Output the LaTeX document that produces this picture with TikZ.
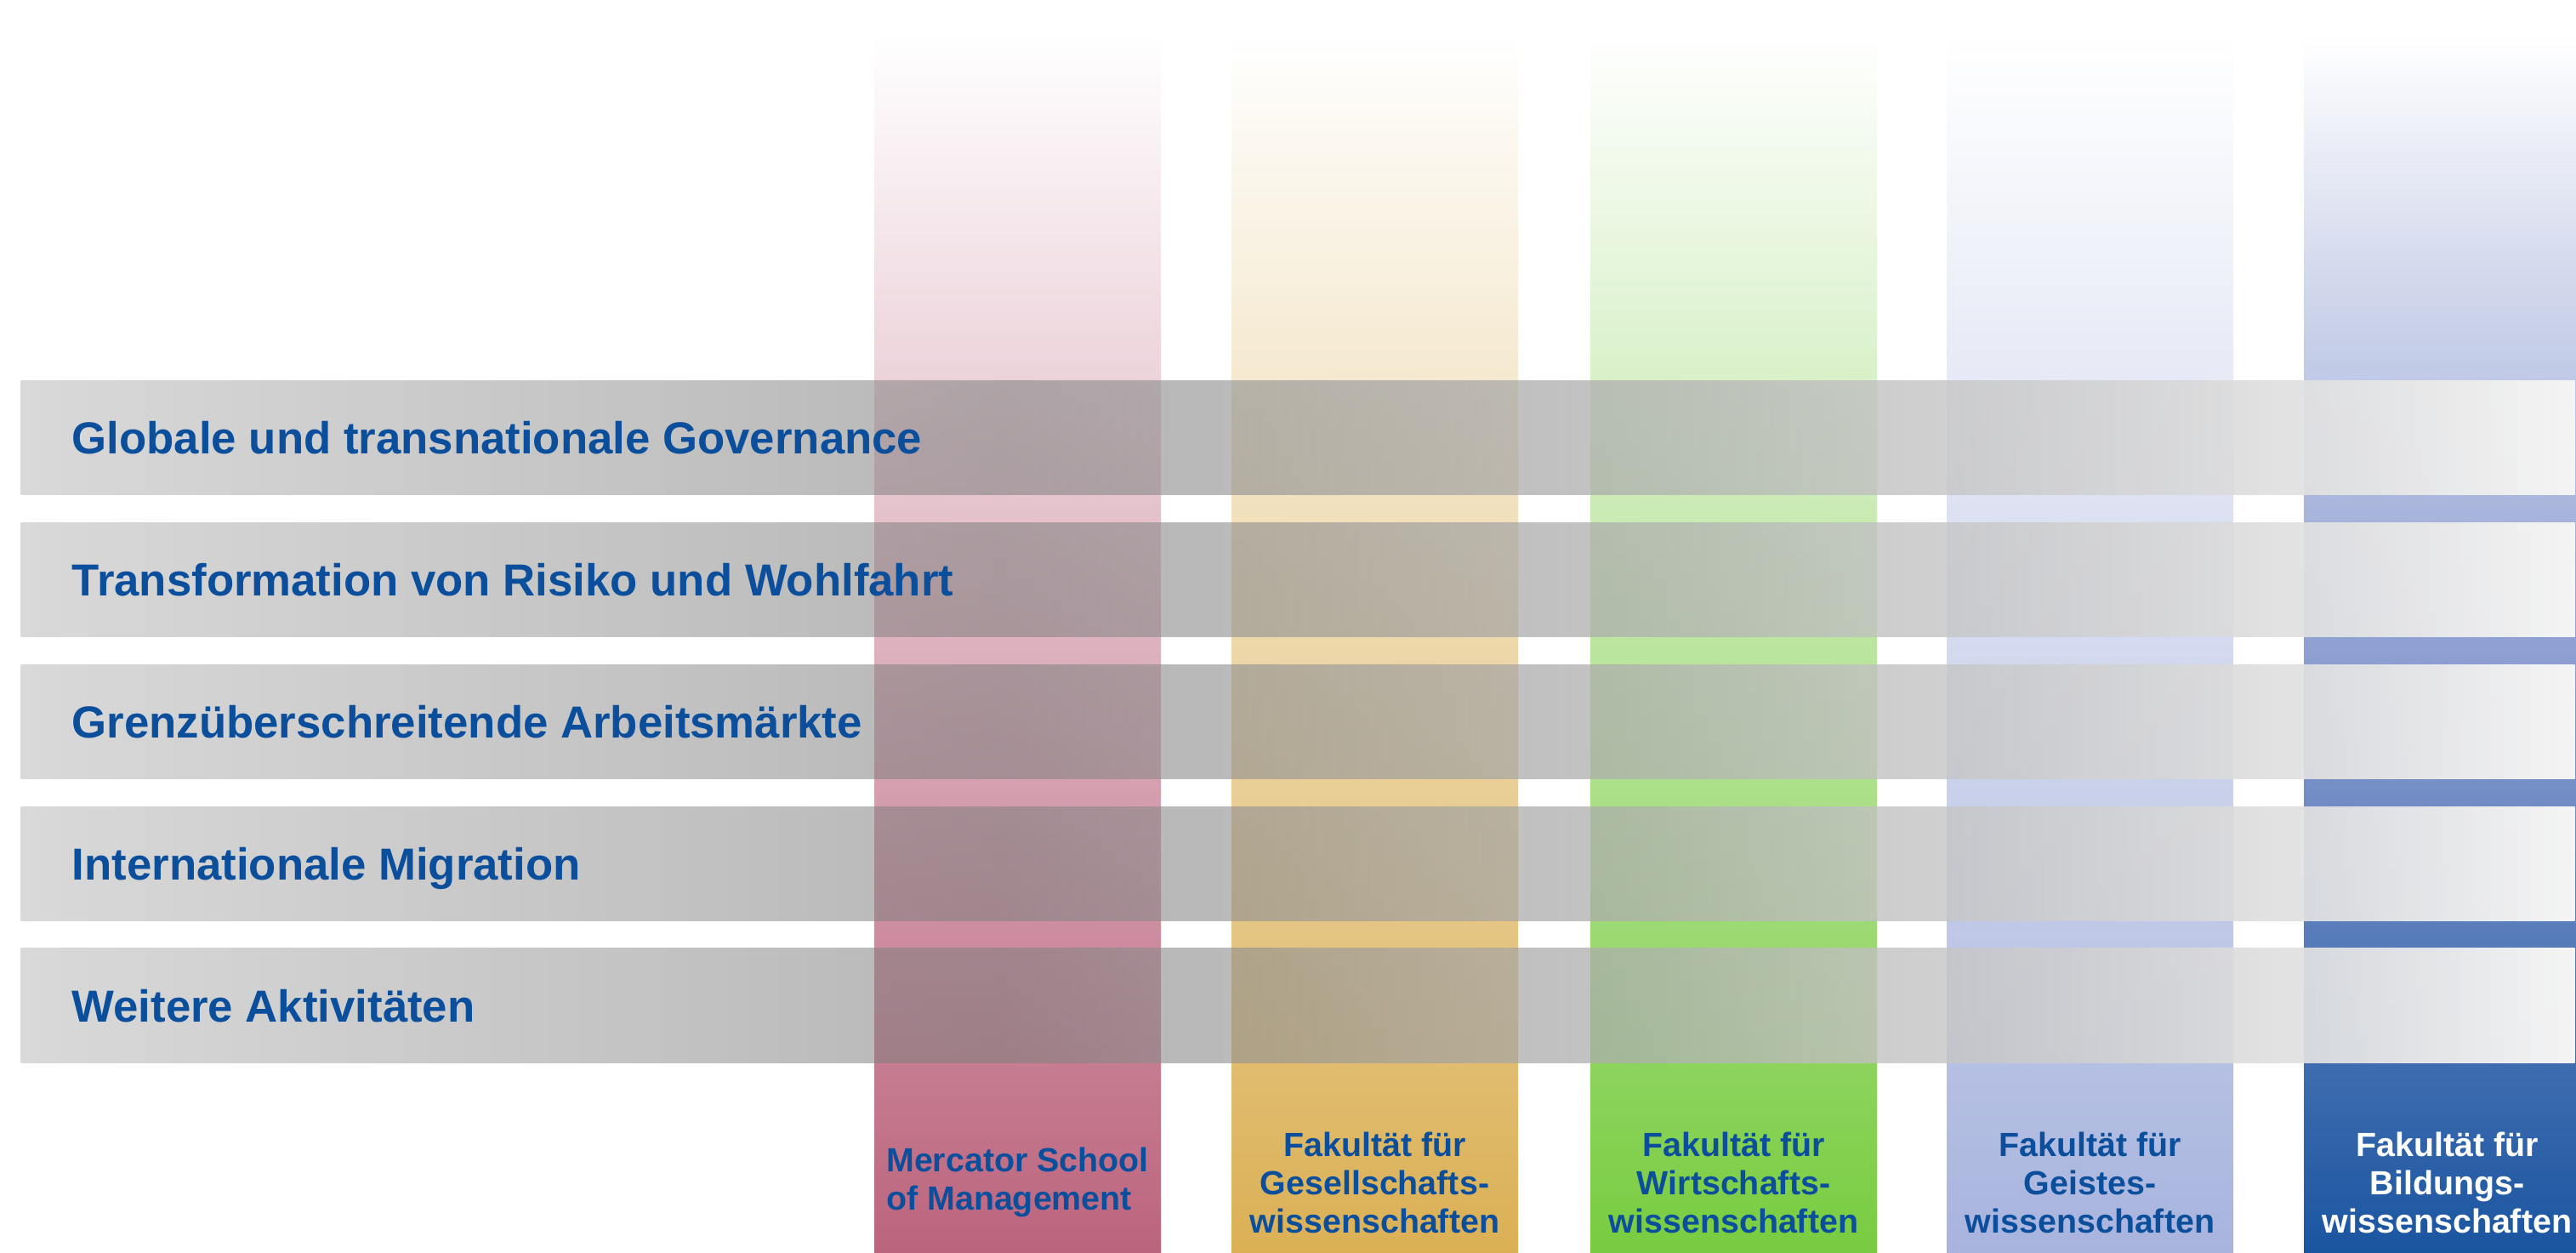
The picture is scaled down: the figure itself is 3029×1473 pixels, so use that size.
\documentclass[tikz,border=0pt]{standalone}
\usepackage{fontspec}
\setmainfont{Liberation Sans}
\usetikzlibrary{fadings}
\definecolor{mytext}{RGB}{11,79,156}
\definecolor{myred}{RGB}{187,100,125}
\definecolor{myorange}{RGB}{219,176,85}
\definecolor{mygreen}{RGB}{120,204,64}
\definecolor{mylilac}{RGB}{168,180,222}
\definecolor{myblue}{RGB}{26,85,160}
\definecolor{mybluemid}{RGB}{144,160,210}
\definecolor{bardark}{gray}{0.5}
\definecolor{barlight}{gray}{0.96}
\pgfdeclarehorizontalshading{barshade}{100bp}{color(0bp)=(bardark); color(25bp)=(bardark); color(44bp)=(bardark); color(75bp)=(barlight); color(100bp)=(barlight)}
\tikzfading[name=barfade, left color=transparent!70, right color=transparent!0]

\begin{document}
\begin{tikzpicture}[x=0.01cm, y=-0.01cm,
    colbox/.style={top color=white, bottom color=#1},
    barbox/.style={shading=barshade, path fading=barfade},
    bartext/.style={anchor=base west, inner sep=0pt, text=mytext, font=\fontsize{15}{18}\selectfont\bfseries},
    coltext/.style={inner sep=0pt, align=center, text=mytext, font=\fontsize{11.2}{12.8}\selectfont\bfseries}
    ]
    \useasboundingbox (0,0) rectangle (3029,1473);

    % the faculties
    \foreach \m/\c/\x in {myred!50!white/myred/1028, myorange!50!white/myorange/1448, mygreen!50!white/mygreen/1870, mylilac!50!white/mylilac/2289, mybluemid/myblue/2709}
    \path[colbox=\c, middle color=\m] (\x,40) rectangle ++(337,1433);

    % the topics
    \foreach \i in {0,...,4}
    \shade[barbox] (25,{448+166.75*\i}) rectangle (3029,{582+166.75*\i});

    \foreach \t [count=\i from 0] in {Globale und transnationale Governance, Transformation von Risiko und Wohlfahrt, Grenzüberschreitende Arbeitsmärkte, Internationale Migration, Weitere Aktivitäten}
    \node[bartext] (topic\i) at (84,{534+166.75*\i}) {\t};

    % the faculty names
    \node[coltext, align=left] (msm) at (1196.5,1390) {Mercator School\\of Management};
    \node[coltext] (gesell) at (1616.5,1390) {Fakultät für\\Gesellschafts-\\wissenschaften};
    \node[coltext] (wiwi) at (2038.5,1390) {Fakultät für\\Wirtschafts-\\wissenschaften};
    \node[coltext] (geist) at (2457.5,1390) {Fakultät für\\Geistes-\\wissenschaften};
    \node[coltext, text=white] (bild) at (2877.5,1390) {Fakultät für\\Bildungs-\\wissenschaften};
\end{tikzpicture}
\end{document}
